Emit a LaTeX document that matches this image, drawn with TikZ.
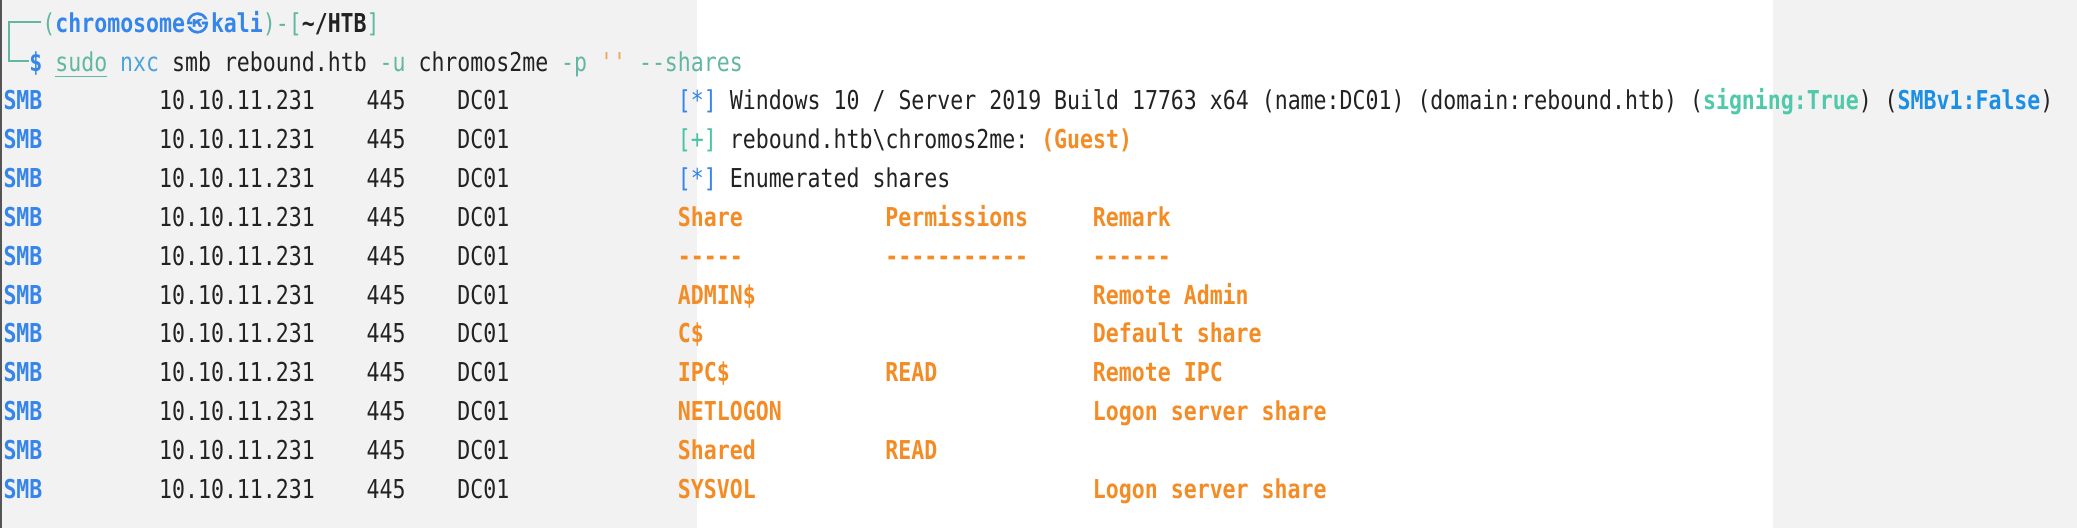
\documentclass[tikz,border=0pt]{standalone}
\usepackage{fontspec}
\setmonofont{DejaVu Sans Mono}[FakeStretch=0.829]
\newfontfamily\cjkbold{Noto Sans CJK KR}[FakeBold=1.5]
\definecolor{kblue}{HTML}{3585EA}
\definecolor{kteal}{HTML}{62B7A0}
\definecolor{kgreen}{HTML}{47C4A6}
\definecolor{knxc}{HTML}{4CA4D8}
\definecolor{korange}{HTML}{F48C26}
\definecolor{kquote}{HTML}{F0A45A}
\definecolor{ksign}{HTML}{4FC9AA}
\definecolor{ksmbv}{HTML}{1B8FE6}
\definecolor{kdark}{HTML}{222222}
\definecolor{kpanel}{HTML}{F2F2F2}
\definecolor{kborder}{HTML}{555555}
\newcommand\termfont{\ttfamily\fontsize{26}{30}\selectfont\frenchspacing}
\newcommand\cellnode[5]{\node[cell,#4] (#1) at ({3.5+#2*12.97},{32.3+38.83*#3}) {#5};}
\tikzset{
  cell/.style={anchor=base west, inner sep=0pt, outer sep=0pt, font=\termfont, text=kdark},
  bb/.style={font=\termfont\bfseries},
  boxline/.style={draw=kteal, line width=1.4pt},
}
\begin{document}
\begin{tikzpicture}[x=1pt,y=-1pt]
\useasboundingbox (0,0) rectangle (2077,528);
% background panels
\fill[white] (0,0) rectangle (2077,528);
\fill[kpanel] (0,0) rectangle (697,528);
\fill[kpanel] (1773,0) rectangle (2077,528);
\fill[kborder] (0,0) rectangle (1.5,528);

% prompt line 1
\coordinate (c1) at (41,22);
\coordinate (c2) at (9,22);
\coordinate (c3) at (9,61);
\coordinate (c4) at (28.5,61);
\draw[boxline] (c1) -- (c2) -- (c3) -- (c4);
\cellnode{lp}{3}{0}{text=kteal}{(}
\cellnode{user}{4}{0}{bb,text=kblue}{chromosome}
\node[anchor=base, inner sep=0pt, text=kblue, font=\cjkbold\fontsize{22}{24}\selectfont] (at) at (197.5,31.3) {㉿};
\cellnode{host}{16}{0}{bb,text=kblue}{kali}
\cellnode{rp}{20}{0}{text=kteal}{)-[}
\cellnode{dir}{23}{0}{bb,text=kdark}{\textasciitilde/HTB}
\cellnode{rb}{28}{0}{text=kteal}{]}

% prompt line 2
\cellnode{dollar}{2}{1}{bb,text=kblue}{\$}
\cellnode{sudo}{4}{1}{text=kteal}{sudo}
\draw[draw=kteal, line width=1.4pt] ([yshift=-5.5pt]sudo.base west) -- ([yshift=-5.5pt]sudo.base east);
\cellnode{nxc}{9}{1}{text=knxc}{nxc}
\cellnode{smbcmd}{13}{1}{}{smb rebound.htb}
\cellnode{optu}{29}{1}{text=kteal}{-u}
\cellnode{uname}{32}{1}{}{chromos2me}
\cellnode{optp}{43}{1}{text=kteal}{-p}
\cellnode{quote}{46}{1}{text=kquote}{{'}{'}}
\cellnode{optsh}{49}{1}{text=kteal}{-{}-shares}

% SMB columns
\foreach \r in {2,...,12}{
  \cellnode{smb\r}{0}{\r}{bb,text=kblue}{SMB}
  \cellnode{ip\r}{12}{\r}{}{10.10.11.231}
  \cellnode{port\r}{28}{\r}{}{445}
  \cellnode{dc\r}{35}{\r}{}{DC01}
}

% messages
\cellnode{m2a}{52}{2}{text=kblue}{[*]}
\cellnode{m2b}{56}{2}{}{Windows 10 / Server 2019 Build 17763 x64 (name:DC01) (domain:rebound.htb) (\textcolor{ksign}{\bfseries signing:True}) (\textcolor{ksmbv}{\bfseries SMBv1:False})}
\cellnode{m3a}{52}{3}{text=kgreen}{[+]}
\cellnode{m3b}{56}{3}{}{rebound.htb\textbackslash chromos2me: \textcolor{korange}{\bfseries (Guest)}}
\cellnode{m4a}{52}{4}{text=kblue}{[*]}
\cellnode{m4b}{56}{4}{}{Enumerated shares}

% share table
\cellnode{h1}{52}{5}{bb,text=korange}{Share}
\cellnode{h2}{68}{5}{bb,text=korange}{Permissions}
\cellnode{h3}{84}{5}{bb,text=korange}{Remark}
\cellnode{d1}{52}{6}{bb,text=korange}{-{}-{}-{}-{}-}
\cellnode{d2}{68}{6}{bb,text=korange}{-{}-{}-{}-{}-{}-{}-{}-{}-{}-{}-}
\cellnode{d3}{84}{6}{bb,text=korange}{-{}-{}-{}-{}-{}-}
\cellnode{s7}{52}{7}{bb,text=korange}{ADMIN\$}
\cellnode{r7}{84}{7}{bb,text=korange}{Remote Admin}
\cellnode{s8}{52}{8}{bb,text=korange}{C\$}
\cellnode{r8}{84}{8}{bb,text=korange}{Default share}
\cellnode{s9}{52}{9}{bb,text=korange}{IPC\$}
\cellnode{p9}{68}{9}{bb,text=korange}{READ}
\cellnode{r9}{84}{9}{bb,text=korange}{Remote IPC}
\cellnode{s10}{52}{10}{bb,text=korange}{NETLOGON}
\cellnode{r10}{84}{10}{bb,text=korange}{Logon server share}
\cellnode{s11}{52}{11}{bb,text=korange}{Shared}
\cellnode{p11}{68}{11}{bb,text=korange}{READ}
\cellnode{s12}{52}{12}{bb,text=korange}{SYSVOL}
\cellnode{r12}{84}{12}{bb,text=korange}{Logon server share}
\end{tikzpicture}
\end{document}
